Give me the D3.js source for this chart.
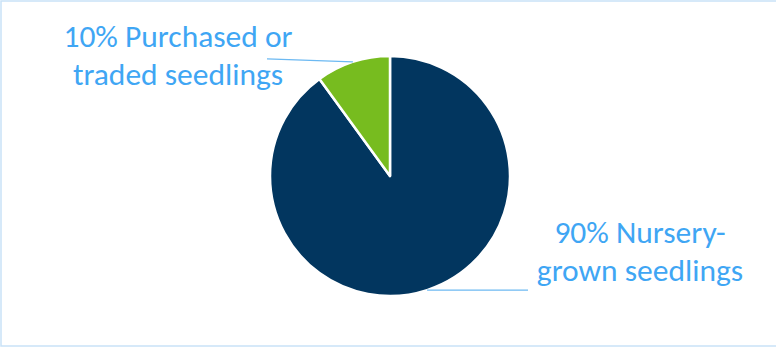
<!DOCTYPE html>
<html lang="en">
<head>
  <meta charset="UTF-8">
  <title>Seedling sources</title>
  <style>
    body { margin: 0; background: #fff; }
    .lbl { font-family: Carlito, "Open Sans", sans-serif; font-size: 31.5px; fill: #3fa6f4; }
  </style>
</head>
<body>
  <script src="https://cdn.jsdelivr.net/npm/d3@7"></script>
  <script>
    // data
    var categories = ["Nursery-grown seedlings", "Purchased or traded seedlings"];
    var shares = [90, 10];
    var colors = ["#02365f", "#77bc1f"];
    // labels as shown (two lines each)
    var labelLines = [["90% Nursery-", "grown seedlings"], ["10% Purchased or", "traded seedlings"]];

    var width = 776, height = 348;
    var cx = 390, cy = 176, r = 120;

    var svg = d3.select("body").append("svg")
      .attr("width", width).attr("height", height);

    // chart border
    svg.append("rect")
      .attr("x", 1).attr("y", 1).attr("width", 780).attr("height", 345)
      .attr("fill", "none").attr("stroke", "#c9e2f7").attr("stroke-width", 1.5);

    var pie = d3.pie().sort(null).value(function (d) { return d; });
    var arcs = pie(shares);
    var arc = d3.arc().innerRadius(0).outerRadius(r);

    var g = svg.append("g").attr("transform", "translate(" + cx + "," + cy + ")");

    g.selectAll("path").data(arcs).enter().append("path")
      .attr("d", arc)
      .attr("fill", function (d, i) { return colors[i]; })
      .attr("stroke", "#fff")
      .attr("stroke-width", 2.5)
      .attr("stroke-linejoin", "round");

    // label positions (text centre x, first baseline y) and leader end x
    var labelPos = [
      { x: 640, y: 243, lineX: 528 },
      { x: 178, y: 47, lineX: 267 }
    ];

    arcs.forEach(function (d, i) {
      var a = (d.startAngle + d.endAngle) / 2;
      var px = cx + r * Math.sin(a), py = cy - r * Math.cos(a);
      var p = labelPos[i];
      var ly = i === 0 ? py : py - 3;
      svg.append("line")
        .attr("x1", px).attr("y1", py)
        .attr("x2", p.lineX).attr("y2", ly)
        .attr("stroke", "#6cb9f2").attr("stroke-width", 1.3);

      var t = svg.append("text").attr("class", "lbl")
        .attr("text-anchor", "middle");
      labelLines[i].forEach(function (s, j) {
        t.append("tspan").attr("x", p.x).attr("y", p.y + j * 38).text(s);
      });
    });
  </script>
</body>
</html>
